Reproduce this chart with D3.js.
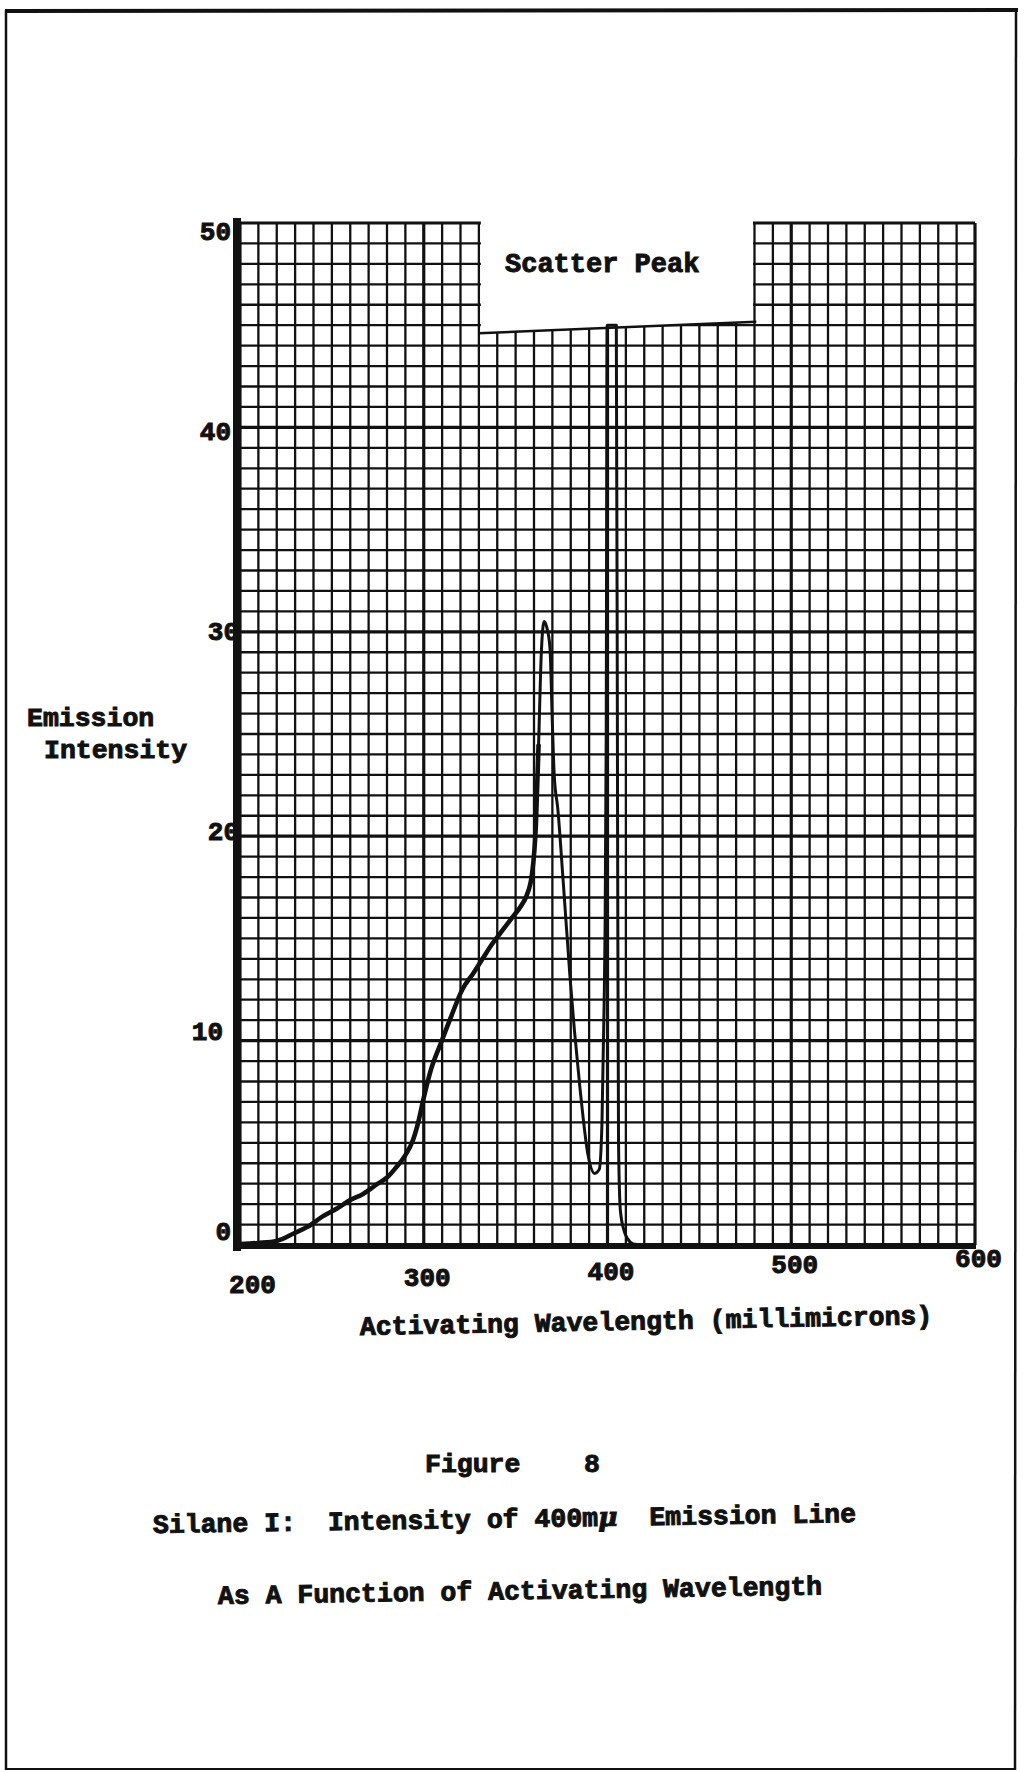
<!DOCTYPE html>
<html><head><meta charset="utf-8">
<script src="https://cdn.jsdelivr.net/npm/d3@7"></script>
<style>body{margin:0;background:#fff}svg{display:block}text{white-space:pre}</style>
</head><body>
<svg id="c" width="1026" height="1772"></svg>
<script>
// ---- data ----
const wavelength = [200,210,220,230,237,245,253,260,267,275,280,285,290,294,297,300,304,309,315,321,327,332,337,342,348,353,356,359,361,362.5,364,365.5,367,368.7,370,371,373,375.8,379.6,382,385,389.4,393,395.5,397,398.2,398.6,399.3,399.8,404.8,405.5,406,407,409,411,414,420,600];
const intensity  = [0.05,0.1,0.2,0.6,0.9,1.4,1.8,2.2,2.5,3.0,3.3,3.8,4.4,5.1,6.0,7.2,8.6,9.8,11.2,12.5,13.3,14.0,14.7,15.3,16.0,16.6,17.1,18.2,20.5,24.5,29.0,30.5,30.2,29.2,25.5,23.0,21.3,17.9,13.1,10.5,7.7,4.4,3.5,3.7,6.0,12.0,14.8,25,45,45,20,5,1.7,0.7,0.3,0.05,0,0];
const xTickValues = [200,300,400,500,600];
const yTickValues = [0,10,20,30,40,50];
const xTitle = "Activating Wavelength (millimicrons)";
const yTitle = ["Emission","Intensity"];
const annotation = "Scatter Peak";
const captionFigure = "Figure    8";
const captionLine1 = "Silane I:  Intensity of 400m";
const captionMu = "\u03bc";
const captionLine1b = "  Emission Line";
const captionLine2 = "As A Function of Activating Wavelength";

// ---- drawing ----
const FONT = "'Liberation Mono','DejaVu Sans Mono',monospace";
const INK = "#111";
const svg = d3.select("#c");
svg.append("rect").attr("width",1026).attr("height",1772).attr("fill","#fff");

const x = d3.scaleLinear().domain([200,600]).range([240,975]);
const y = d3.scaleLinear().domain([0,50]).range([1245,223]);

// page frame
const frame = svg.append("g").attr("stroke",INK).attr("fill","none");
frame.append("line").attr("x1",5).attr("y1",11).attr("x2",1018).attr("y2",10).attr("stroke-width",4);
frame.append("line").attr("x1",6).attr("y1",10).attr("x2",6).attr("y2",1770).attr("stroke-width",2.5);
frame.append("line").attr("x1",1016).attr("y1",8).attr("x2",1015).attr("y2",1770).attr("stroke-width",2.5);
frame.append("line").attr("x1",6).attr("y1",1769).attr("x2",1016).attr("y2",1769).attr("stroke-width",2);

// grid
const grid = svg.append("g").attr("stroke",INK);
grid.selectAll("line.v").data(x.ticks(40)).join("line").attr("class","v")
  .attr("x1",d=>x(d)).attr("x2",d=>x(d)).attr("y1",y(50)).attr("y2",y(0))
  .attr("stroke-width",d=>d%100===0?3.2:2.3);
grid.selectAll("line.h").data(y.ticks(50)).join("line").attr("class","h")
  .attr("y1",d=>y(d)).attr("y2",d=>y(d)).attr("x1",x(200)).attr("x2",x(600))
  .attr("stroke-width",d=>d%10===0?3.2:2.3);

// scatter-peak cut-out box
const bxL = x(330)+2, bxR = x(480)-1.5;
svg.append("polygon")
  .attr("points",[[bxL,y(50)-10],[bxR,y(50)-10],[bxR,y(45)-3],[bxL,y(45)+8]].map(p=>p.join(",")).join(" "))
  .attr("fill","#fff");
svg.append("line").attr("x1",x(330)).attr("y1",y(45)+8).attr("x2",x(481)).attr("y2",y(45)-3.5)
  .attr("stroke",INK).attr("stroke-width",2.5);

// curve
const pts = wavelength.map((w,i)=>({w,v:intensity[i]}));
const line = d3.line().x(d=>x(d.w)).y(d=>y(d.v)).curve(d3.curveMonotoneX);
svg.append("path").datum(pts.filter(d=>d.w<=362.5)).attr("d",line)
  .attr("fill","none").attr("stroke",INK).attr("stroke-width",4.6).attr("stroke-linejoin","round");
svg.append("path").datum(pts.filter(d=>d.w>=361)).attr("d",line)
  .attr("fill","none").attr("stroke",INK).attr("stroke-width",3).attr("stroke-linejoin","round");

// heavy axes
svg.append("line").attr("x1",237).attr("x2",237).attr("y1",y(50)-5).attr("y2",y(0)+6)
  .attr("stroke",INK).attr("stroke-width",8);
svg.append("line").attr("x1",233).attr("x2",x(600)+1).attr("y1",y(0)+1).attr("y2",y(0)+1)
  .attr("stroke",INK).attr("stroke-width",6);

// tick labels via axes
const xAxis = svg.append("g").attr("transform",`translate(0,${y(0)})`)
  .call(d3.axisBottom(x).tickValues(xTickValues).tickSize(0).tickFormat(d3.format("d")));
xAxis.select(".domain").remove();
xAxis.selectAll("text")
  .attr("font-family",FONT).attr("font-weight","bold").attr("font-size",26)
  .attr("fill",INK).attr("stroke",INK).attr("stroke-width",1)
  .attr("dx",d=>d===200?12:3)
  .attr("y",d=>38-0.0346*(x(d)-252)).attr("dy","0.35em");

const yAxis = svg.append("g").attr("transform","translate(233,0)")
  .call(d3.axisLeft(y).tickValues(yTickValues).tickSize(0).tickPadding(0).tickFormat(d3.format("d")));
yAxis.select(".domain").remove();
yAxis.selectAll("text")
  .attr("font-family",FONT).attr("font-weight","bold").attr("font-size",26)
  .attr("fill",INK).attr("stroke",INK).attr("stroke-width",1)
  .attr("x",d=>d===30||d===20?6:(d===10?-10:-2))
  .attr("y",d=>-15+0.45*d).attr("dy","0.35em");

// texts
function txt(s,xp,yp,size,rot){
  const t = svg.append("text").attr("x",xp).attr("y",yp)
    .attr("font-family",FONT).attr("font-weight","bold").attr("font-size",size||26.5)
    .attr("fill",INK).attr("stroke",INK).attr("stroke-width",1).text(s);
  if(rot) t.attr("transform",`rotate(${rot},${xp},${yp})`);
  return t;
}
txt(annotation,505,272,27);
txt(yTitle[0],27,726,26.5);
txt(yTitle[1],44,758,26.5);
txt(xTitle,360,1335,26.5,-1.1);
txt(captionFigure,425,1472,26.5);
const c1 = txt(captionLine1,153,1533,26.5,-0.9);
c1.append("tspan").attr("font-style","italic").attr("font-family","'DejaVu Serif',serif").text(captionMu);
c1.append("tspan").text(captionLine1b);
txt(captionLine2,218,1604,26.5,-0.9);
</script>
</body></html>
